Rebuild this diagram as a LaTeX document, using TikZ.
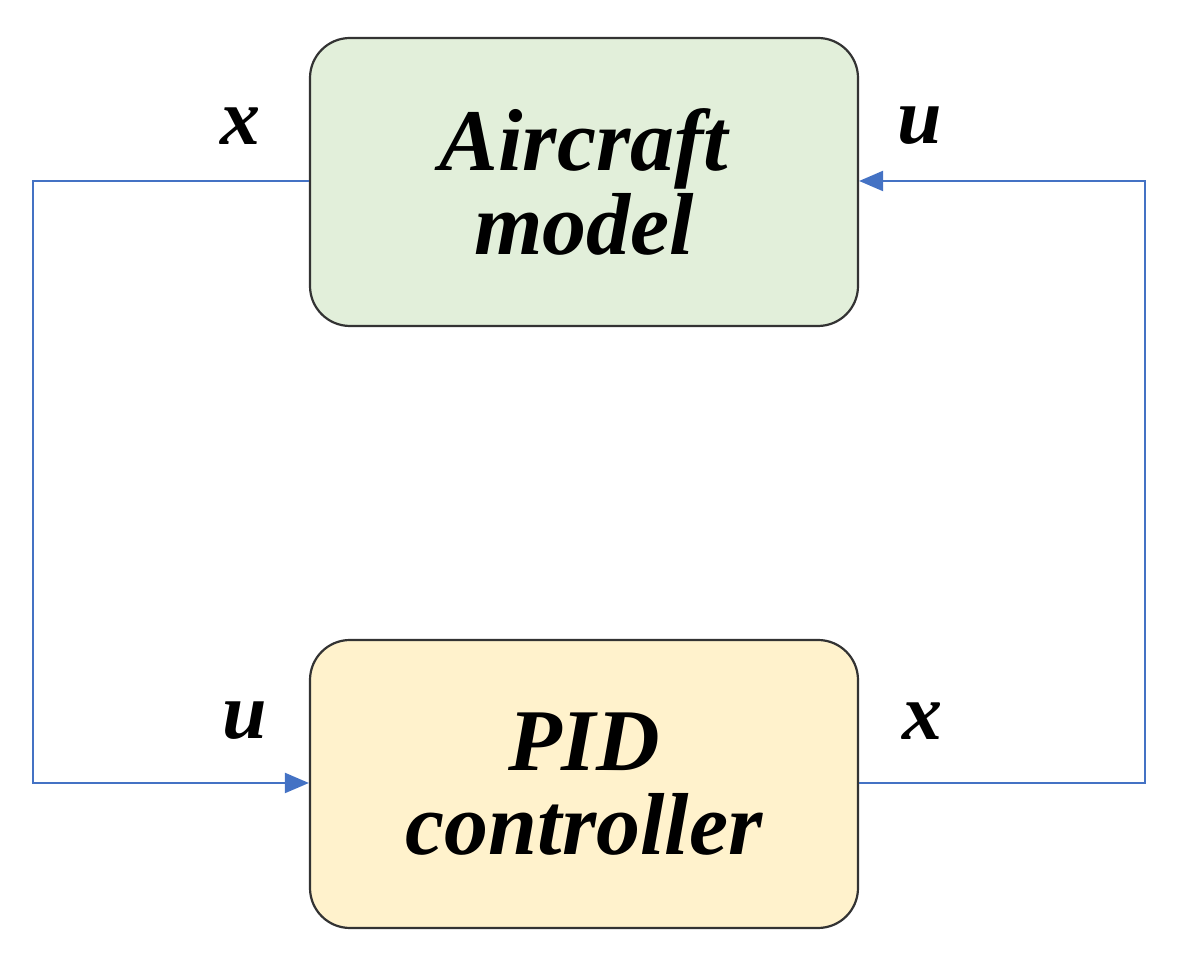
\documentclass[tikz,border=0pt]{standalone}
\usepackage{fontspec}
\setmainfont{Liberation Serif}
\usetikzlibrary{arrows.meta}
\definecolor{gfill}{HTML}{E2EFDA}
\definecolor{yfill}{HTML}{FFF2CC}
\definecolor{lblue}{HTML}{4472C4}
\begin{document}
\begin{tikzpicture}[x=1pt,y=1pt,
  box/.style={draw=black!80,line width=2.2pt,rounded corners=40pt,minimum width=548pt,minimum height=288pt,align=center,font=\fontsize{88}{84}\selectfont\bfseries\itshape},
  lbl/.style={font=\fontsize{80}{80}\selectfont\bfseries\itshape},
  conn/.style={draw=lblue,line width=2.2pt},
  arr/.style={conn,-{Triangle[length=24pt,width=20pt]}}]
\useasboundingbox (0,0) rectangle (1179,966);
\node[box,fill=gfill] (ac) at (584,784) {Aircraft\\model};
\node[box,fill=yfill] (pid) at (584,182) {PID\\controller};
\coordinate (tl) at (33,785);
\coordinate (bl) at (33,183);
\coordinate (tr) at (1145,785);
\coordinate (br) at (1145,183);
\draw[arr] (ac.west |- tl) -- (tl) -- (bl) -- (pid.west |- bl);
\draw[arr] (pid.east |- br) -- (br) -- (tr) -- (ac.east |- tr);
\node[lbl] (x1) at (240,840) {x};
\node[lbl] (u1) at (920,840) {u};
\node[lbl] (u2) at (245,245) {u};
\node[lbl] (x2) at (922,245) {x};
\end{tikzpicture}
\end{document}
